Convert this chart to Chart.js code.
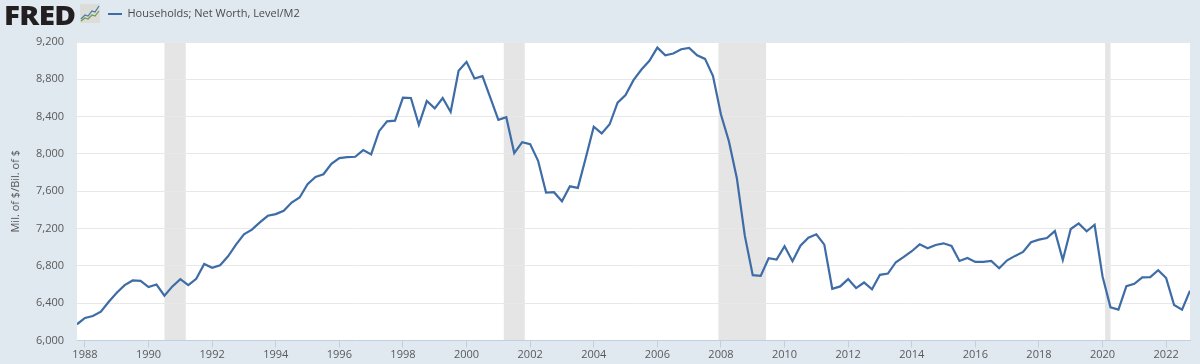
<!DOCTYPE html>
<html>
<head>
<meta charset="utf-8">
<style>
  html, body { margin: 0; padding: 0; background: #e1e9f0; }
  #wrap { position: relative; width: 1200px; height: 364px; overflow: hidden; }
  #logo { position: absolute; left: 4px; top: -3px; font: 800 26px "Open Sans", sans-serif; letter-spacing: -0.6px; color: #231f20; transform: scaleX(1.14); transform-origin: left top; }
  #icon { position: absolute; left: 80px; top: 4px; }
</style>
</head>
<body>
<div id="wrap">
  <canvas id="fredChart" width="1200" height="364"></canvas>
  <div id="logo">FRED</div>
  <svg id="icon" width="20" height="19" viewBox="0 0 20 19">
    <rect width="20" height="19" rx="1" fill="#dcdcd8"/>
    <polyline points="1,15 5,11 8,12 12,7 15,8 19,2" fill="none" stroke="#4a76ac" stroke-width="1.2"/>
    <polyline points="1,17 5,14 8,15 12,11 15,12 19,7" fill="none" stroke="#6f9a48" stroke-width="1.2"/>
  </svg>
</div>
<script src="https://cdn.jsdelivr.net/npm/chart.js@4"></script>
<script>
const seriesLabel = 'Households; Net Worth, Level/M2';
const axisTitle = 'Mil. of $/Bil. of $';
const firstQuarter = 1987.75;

// quarterly values
const netWorth = [
  6174, 6242, 6263, 6309, 6416, 6512, 6594, 6644, 6640, 6572,
  6600, 6480, 6580, 6658, 6594, 6661, 6821, 6779, 6807, 6903,
  7028, 7138, 7188, 7266, 7337, 7355, 7390, 7479, 7533, 7675,
  7753, 7782, 7895, 7956, 7966, 7970, 8041, 7995, 8244, 8350,
  8357, 8603, 8600, 8311, 8567, 8489, 8600, 8450, 8891, 8987,
  8809, 8834, 8600, 8365, 8393, 8009, 8126, 8105, 7926, 7586,
  7590, 7493, 7653, 7636, 7959, 8292, 8220, 8318, 8550, 8631,
  8791, 8905, 8998, 9140, 9058, 9076, 9122, 9136, 9058, 9019,
  8834, 8422, 8137, 7740, 7124, 6700, 6693, 6882, 6868, 7010,
  6850, 7017, 7102, 7138, 7028, 6555, 6580, 6658, 6562, 6622,
  6548, 6704, 6718, 6839, 6896, 6957, 7031, 6989, 7024, 7042,
  7013, 6853, 6885, 6843, 6843, 6853, 6775, 6860, 6907, 6949,
  7053, 7081, 7099, 7173, 6864, 7195, 7255, 7170, 7241, 6686,
  6356, 6331, 6583, 6608, 6676, 6679, 6754, 6669, 6380, 6331,
  6533
];

const yTicks = [6000, 6400, 6800, 7200, 7600, 8000, 8400, 8800, 9200];
const xTicks = [1988, 1990, 1992, 1994, 1996, 1998, 2000, 2002, 2004, 2006, 2008, 2010, 2012, 2014, 2016, 2018, 2020, 2022];

// NBER recessions, as decimal years
const recessionStart = [1990.5, 2001.17, 2007.92, 2020.08];
const recessionEnd = [1991.17, 2001.83, 2009.42, 2020.25];

const textColor = '#595959';
const lineColor = '#3d6ca6';
const axisColor = '#c0d0e0';

// white plot area and the grey recession bands, under the grid
const plotBands = {
  id: 'plotBands',
  beforeDraw(chart) {
    const { ctx, chartArea, scales: { x } } = chart;
    ctx.save();
    ctx.fillStyle = '#fff';
    ctx.fillRect(chartArea.left, chartArea.top, chartArea.right - chartArea.left, chartArea.bottom - chartArea.top);
    ctx.fillStyle = '#e5e5e5';
    recessionStart.forEach((start, i) => {
      const x0 = x.getPixelForValue(start);
      const x1 = x.getPixelForValue(recessionEnd[i]);
      ctx.fillRect(x0, chartArea.top, x1 - x0, chartArea.bottom - chartArea.top);
    });
    ctx.restore();
  }
};

// legend sits right of the logo, not at the canvas edge
const legendShift = {
  id: 'legendShift',
  afterLayout(chart) {
    chart.legend.left = 91;
    chart.legend.top = -8.5;
  }
};

new Chart(document.getElementById('fredChart').getContext('2d'), {
  type: 'line',
  data: {
    datasets: [{
      label: seriesLabel,
      data: netWorth.map((v, i) => ({ x: firstQuarter + i / 4, y: v })),
      borderColor: lineColor,
      backgroundColor: lineColor,
      borderWidth: 2.2,
      pointRadius: 0,
      tension: 0,
      fill: false
    }]
  },
  options: {
    responsive: false,
    animation: false,
    layout: { padding: { left: 9, right: 10, top: 4, bottom: 0 } },
    scales: {
      x: {
        type: 'linear',
        min: firstQuarter,
        max: 2022.75,
        afterFit(axis) { axis.height = 23.5; },
        afterBuildTicks(axis) { axis.ticks = xTicks.map(v => ({ value: v })); },
        ticks: {
          color: textColor,
          font: { family: '"Open Sans"', size: 11 },
          padding: 1,
          maxRotation: 0,
          autoSkip: false,
          callback: v => String(v)
        },
        grid: { drawOnChartArea: false, color: axisColor, tickLength: 7 },
        border: { color: axisColor }
      },
      y: {
        min: 6000,
        max: 9200,
        afterFit(axis) { axis.width = 68; },
        afterBuildTicks(axis) { axis.ticks = yTicks.map(v => ({ value: v })); },
        ticks: {
          color: textColor,
          font: { family: '"Open Sans"', size: 11 },
          padding: 13,
          callback: v => v.toLocaleString('en-US')
        },
        title: {
          display: true,
          text: axisTitle,
          color: textColor,
          font: { family: '"Open Sans"', size: 11 },
          padding: { top: 0, bottom: 12 }
        },
        grid: { color: '#e8e8e8', lineWidth: 1, drawTicks: false },
        border: { display: false }
      }
    },
    plugins: {
      legend: {
        display: true,
        position: 'top',
        align: 'start',
        labels: {
          color: '#4a4a4a',
          font: { family: '"Open Sans"', size: 11 },
          boxWidth: 14,
          boxHeight: 2,
          padding: 17,
          generateLabels: chart => [{
            text: chart.data.datasets[0].label,
            fillStyle: lineColor,
            strokeStyle: lineColor,
            fontColor: '#4a4a4a',
            lineWidth: 0,
            datasetIndex: 0
          }]
        }
      },
      tooltip: { enabled: false }
    }
  },
  plugins: [plotBands, legendShift]
});
</script>
</body>
</html>
